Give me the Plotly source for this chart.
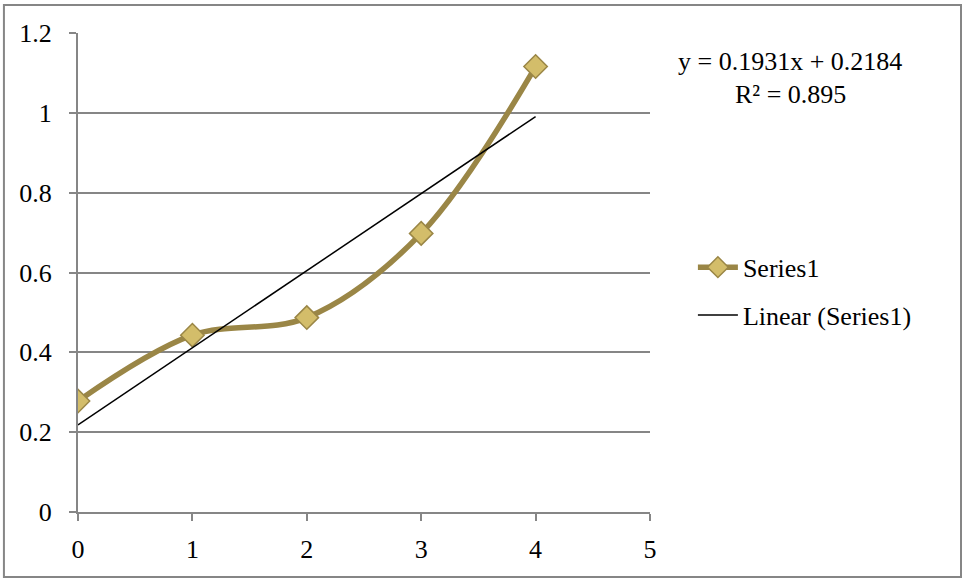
import plotly.graph_objects as go

x_vals = [0, 1, 2, 3, 4]
y_vals = [0.278, 0.443, 0.487, 0.698, 1.116]
slope = 0.1931
intercept = 0.2184
r_squared = 0.895
x_ticks = [0, 1, 2, 3, 4, 5]
y_ticks = [0, 0.2, 0.4, 0.6, 0.8, 1.0, 1.2]
y_tick_text = ["0", "0.2", "0.4", "0.6", "0.8", "1", "1.2"]

trend_x = [x_vals[0], x_vals[-1]]
trend_y = [slope * v + intercept for v in trend_x]

FONT = "Liberation Serif"
FS = 26
GRID = "#868686"

fig = go.Figure()
fig.add_trace(go.Scatter(
    x=x_vals, y=y_vals, mode="lines+markers", name="Series1",
    line=dict(color="#9A8646", width=5.5, shape="spline", smoothing=1),
    marker=dict(symbol="diamond", size=18, color="#D3BD6A",
                line=dict(color="#9A8646", width=1.5)),
    legendgroup="a",
))
fig.add_trace(go.Scatter(
    x=trend_x, y=trend_y, mode="lines", name="Linear (Series1)",
    line=dict(color="black", width=1.5),
    legendgroup="b",
))

fig.update_layout(
    width=964, height=581,
    margin=dict(l=78, r=314, t=33, b=69),
    paper_bgcolor="white", plot_bgcolor="white",
    font=dict(family=FONT, size=FS, color="black"),
    showlegend=True,
    legend=dict(x=1.075, y=0.56, xanchor="left", yanchor="top",
                font=dict(family=FONT, size=FS), tracegroupgap=11,
                itemwidth=40, bgcolor="rgba(0,0,0,0)"),
    xaxis=dict(range=[0, 5], tickvals=x_ticks, showgrid=False, zeroline=False,
               showline=True, linecolor=GRID, linewidth=2,
               ticks="outside", ticklen=7, tickcolor=GRID, tickwidth=2,
               ticklabelstandoff=6, fixedrange=True),
    yaxis=dict(range=[0, 1.2], tickvals=y_ticks, ticktext=y_tick_text,
               showgrid=True, gridcolor=GRID, gridwidth=2, zeroline=False,
               showline=True, linecolor=GRID, linewidth=2,
               ticks="outside", ticklen=7, tickcolor=GRID, tickwidth=2,
               ticklabelstandoff=12, fixedrange=True),
    shapes=[dict(type="rect", xref="paper", yref="paper",
                 x0=-0.1295, x1=1.5437, y0=-0.1357, y1=1.0585,
                 line=dict(color="#868686", width=2), fillcolor="rgba(0,0,0,0)",
                 layer="below")],
    annotations=[
        dict(xref="paper", yref="paper", x=1.245, y=0.941,
             text=f"y = {slope}x + {intercept}", showarrow=False,
             xanchor="center", yanchor="middle", font=dict(family=FONT, size=FS)),
        dict(xref="paper", yref="paper", x=1.245, y=0.872,
             text=f"R² = {r_squared}", showarrow=False,
             xanchor="center", yanchor="middle", font=dict(family=FONT, size=FS)),
    ],
)

fig.write_html("out.html", config={"displayModeBar": False},
               post_script="document.body.style.margin='0';document.body.style.overflow='hidden';")
